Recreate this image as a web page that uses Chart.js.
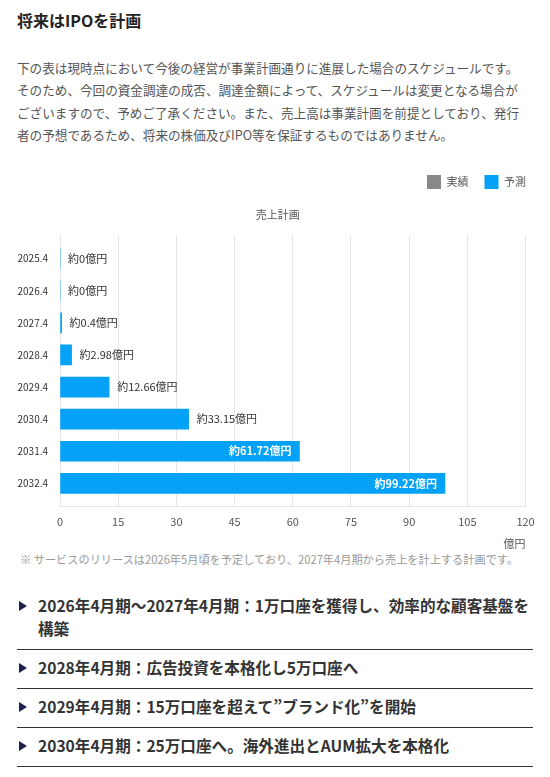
<!DOCTYPE html>
<html lang="ja">
<head>
<meta charset="utf-8">
<title>将来はIPOを計画</title>
<script src="https://cdn.jsdelivr.net/npm/chart.js@4.4.1/dist/chart.umd.min.js"></script>
<style>
  body { margin: 0; background: #fff; font-family: "Noto Sans CJK JP", "Noto Sans", sans-serif; color: #333; }
  .page { position: relative; width: 550px; height: 777px; overflow: hidden; }
  h2 { position: absolute; left: 17px; top: 8px; margin: 0; font-size: 16px; line-height: 24px; font-weight: bold; color: #222; }
  .lead { position: absolute; left: 17px; top: 57px; margin: 0; font-size: 12.6px; line-height: 22.4px; color: #555; white-space: nowrap; }
  .chart-box { position: absolute; left: 0; top: 159px; width: 546px; height: 391px; }
  .note { position: absolute; left: 20px; top: 551px; margin: 0; font-size: 11.2px; line-height: 16px; color: #999; white-space: nowrap; }
  ul.steps { position: absolute; left: 17px; top: 588px; width: 516px; margin: 0; padding: 0; list-style: none; }
  ul.steps li { position: relative; padding: 6px 0 9px 21px; border-bottom: 1px solid #333; font-size: 15.6px; line-height: 23px; font-weight: bold; color: #333; white-space: nowrap; }
  ul.steps li::before { content: ""; position: absolute; left: 2px; top: 13px; width: 0; height: 0;
    border-left: 8px solid #1c2150; border-top: 5px solid transparent; border-bottom: 5px solid transparent; }
</style>
</head>
<body>
<div class="page">
  <h2>将来はIPOを計画</h2>
  <p class="lead">下の表は現時点において今後の経営が事業計画通りに進展した場合のスケジュールです。<br>そのため、今回の資金調達の成否、調達金額によって、スケジュールは変更となる場合が<br>ございますので、予めご了承ください。また、売上高は事業計画を前提としており、発行<br>者の予想であるため、将来の株価及びIPO等を保証するものではありません。</p>
  <div class="chart-box"><canvas id="salesChart"></canvas></div>
  <p class="note">※ サービスのリリースは2026年5月頃を予定しており、2027年4月期から売上を計上する計画です。</p>
  <ul class="steps">
    <li>2026年4月期〜2027年4月期：1万口座を獲得し、効率的な顧客基盤を<br>構築</li>
    <li>2028年4月期：広告投資を本格化し5万口座へ</li>
    <li>2029年4月期：15万口座を超えて”ブランド化”を開始</li>
    <li>2030年4月期：25万口座へ。海外進出とAUM拡大を本格化</li>
  </ul>
</div>
<script>
// fiscal periods (top to bottom)
const periods = ['2025.4', '2026.4', '2027.4', '2028.4', '2029.4', '2030.4', '2031.4', '2032.4'];
// results so far (none yet)
const actualValues = [null, null, null, null, null, null, null, null];
// forecast sales, 億円
const forecastValues = [0, 0, 0.4, 2.98, 12.66, 33.15, 61.72, 99.22];
const valueLabels = ['約0億円', '約0億円', '約0.4億円', '約2.98億円', '約12.66億円', '約33.15億円', '約61.72億円', '約99.22億円'];
const xTicks = [0, 15, 30, 45, 60, 75, 90, 105, 120];

const FONT = '"Noto Sans CJK JP", "Noto Sans", sans-serif';

// Draw value labels next to / inside each bar
const barLabels = {
  id: 'barLabels',
  afterDatasetsDraw(chart) {
    const ctx = chart.ctx;
    const meta = chart.getDatasetMeta(1);
    ctx.save();
    ctx.textBaseline = 'middle';
    meta.data.forEach((bar, i) => {
      const v = forecastValues[i];
      if (v > 50) {
        ctx.font = 'bold 11px ' + FONT;
        ctx.fillStyle = '#fff';
        ctx.textAlign = 'right';
        ctx.fillText(valueLabels[i], bar.x - 8, bar.y);
      } else {
        ctx.font = '11px ' + FONT;
        ctx.fillStyle = '#333';
        ctx.textAlign = 'left';
        ctx.fillText(valueLabels[i], bar.x + 8, bar.y);
      }
    });
    ctx.restore();
  }
};

new Chart(document.getElementById('salesChart'), {
  type: 'bar',
  data: {
    datasets: [
      {
        label: '実績',
        data: actualValues.map((v, i) => ({ x: v, y: i })),
        backgroundColor: '#888888',
        barThickness: 20
      },
      {
        label: '予測',
        data: forecastValues.map((v, i) => ({ x: v, y: i })),
        backgroundColor: '#03a2f6',
        barThickness: 20
      }
    ]
  },
  options: {
    indexAxis: 'y',
    responsive: true,
    maintainAspectRatio: false,
    animation: false,
    layout: { padding: { left: 13.5, right: 4 } },
    plugins: {
      legend: {
        position: 'top',
        align: 'end',
        weight: 3000,
        labels: {
          boxWidth: 14,
          boxHeight: 14,
          padding: 16,
          color: '#555',
          font: { size: 11, family: FONT }
        }
      },
      title: {
        display: true,
        text: '売上計画',
        color: '#555',
        padding: { top: 9, bottom: 14 },
        font: { size: 11, weight: 'normal', family: FONT }
      },
      tooltip: { enabled: false }
    },
    scales: {
      x: {
        stacked: true,
        min: 0,
        max: 120,
        afterBuildTicks: (axis) => { axis.ticks = xTicks.map(v => ({ value: v })); },
        // a little more room on the right so the 120 line sits where the original does
        afterFit: (axis) => { axis.paddingRight += 2.9; },
        grid: { color: '#e6e6e6', drawTicks: false },
        border: { color: '#e6e6e6' },
        ticks: { color: '#555', padding: 8.4, font: { size: 11, family: FONT } },
        title: {
          display: true,
          text: '億円',
          align: 'end',
          color: '#555',
          padding: { top: 0, bottom: 0 },
          font: { size: 11, family: FONT }
        }
      },
      y: {
        type: 'linear',
        stacked: true,
        reverse: true,
        offset: false,
        min: -0.73,
        max: periods.length - 1 + 0.73,
        grid: { display: false },
        border: { color: '#e6e6e6' },
        ticks: {
          stepSize: 1,
          color: '#333',
          padding: 4,
          font: { size: 10, family: FONT },
          callback: (v) => Number.isInteger(v) ? periods[v] : ''
        }
      }
    }
  },
  plugins: [barLabels]
});
</script>
</body>
</html>
